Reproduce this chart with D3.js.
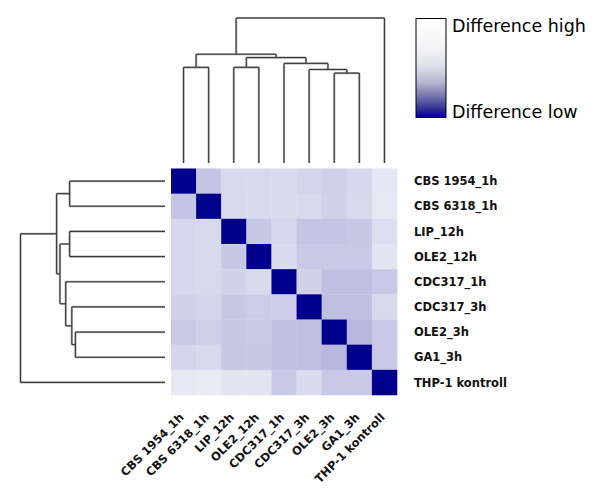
<!DOCTYPE html>
<html>
<head>
<meta charset="utf-8">
<script src="https://cdn.jsdelivr.net/npm/d3@7/dist/d3.min.js"></script>
<style>
html,body{margin:0;padding:0;background:#fff;}
svg{display:block;}
</style>
</head>
<body>
<svg id="chart" width="603" height="504"></svg>
<script>
// ---- data ----
const labels = ["CBS 1954_1h","CBS 6318_1h","LIP_12h","OLE2_12h","CDC317_1h","CDC317_3h","OLE2_3h","GA1_3h","THP-1 kontroll"];
const row0 = [0.00,0.77,0.85,0.85,0.85,0.83,0.81,0.84,0.90];
const row1 = [0.77,0.00,0.85,0.86,0.86,0.85,0.82,0.85,0.91];
const row2 = [0.84,0.85,0.00,0.78,0.84,0.77,0.77,0.78,0.87];
const row3 = [0.84,0.85,0.78,0.00,0.86,0.79,0.79,0.79,0.89];
const row4 = [0.84,0.85,0.82,0.85,0.00,0.82,0.75,0.75,0.79];
const row5 = [0.82,0.83,0.78,0.80,0.80,0.00,0.75,0.75,0.85];
const row6 = [0.79,0.81,0.78,0.79,0.75,0.75,0.00,0.72,0.79];
const row7 = [0.83,0.85,0.78,0.78,0.75,0.75,0.72,0.00,0.79];
const row8 = [0.91,0.92,0.89,0.89,0.79,0.86,0.79,0.79,0.00];
const matrix = [row0,row1,row2,row3,row4,row5,row6,row7,row8];
// linkage: [childA, childB, height]; leaves 0..8, new nodes from 9
const merges = [
  [6, 7, 0.620],   // 9
  [5, 9, 0.645],   // 10
  [4, 10, 0.687],  // 11
  [2, 3, 0.660],   // 12
  [12, 11, 0.727], // 13
  [0, 1, 0.660],   // 14
  [14, 13, 0.750], // 15
  [15, 8, 1.000]   // 16
];
const legendHigh = "Difference high";
const legendLow = "Difference low";

// ---- layout ----
const svg = d3.select("#chart");
const hmX = [171, 397], hmY = [168.5, 395];
const x = d3.scaleBand().domain(d3.range(labels.length)).range(hmX);
const y = d3.scaleBand().domain(d3.range(labels.length)).range(hmY);
const color = d3.scaleLinear().domain([0,1]).range(["#00008c","#ffffff"]).interpolate(d3.interpolateRgb);

// heatmap cells
const cells = [];
matrix.forEach((r,i)=>r.forEach((v,j)=>cells.push({i,j,v})));
svg.append("g").selectAll("rect").data(cells).join("rect")
  .attr("x",d=>x(d.j)).attr("y",d=>y(d.i))
  .attr("width",x.bandwidth()+0.3).attr("height",y.bandwidth()+0.3)
  .attr("fill",d=>color(d.v));

// dendrograms
const hTop = d3.scaleLinear().domain([0,1]).range([163,18]);
const hLeft = d3.scaleLinear().domain([0,1]).range([165,20.5]);
const nodes = labels.map((l,i)=>({pos:i, h:0}));
merges.forEach(m=>{
  const a = nodes[m[0]], b = nodes[m[1]];
  nodes.push({pos:(a.pos+b.pos)/2, h:m[2], a, b});
});
const topPath = d3.path(), leftPath = d3.path();
const cx = p => x(0) + x.bandwidth()*(p+0.5);
const cy = p => y(0) + y.bandwidth()*(p+0.5);
nodes.filter(n=>n.a).forEach(n=>{
  [n.a,n.b].forEach(c=>{
    topPath.moveTo(cx(c.pos), hTop(c.h));
    topPath.lineTo(cx(c.pos), hTop(n.h));
    leftPath.moveTo(hLeft(c.h), cy(c.pos));
    leftPath.lineTo(hLeft(n.h), cy(c.pos));
  });
  topPath.moveTo(cx(n.a.pos), hTop(n.h));
  topPath.lineTo(cx(n.b.pos), hTop(n.h));
  leftPath.moveTo(hLeft(n.h), cy(n.a.pos));
  leftPath.lineTo(hLeft(n.h), cy(n.b.pos));
});
[topPath,leftPath].forEach(p=>{
  svg.append("path").attr("d",p.toString()).attr("fill","none").attr("stroke","#aaa").attr("stroke-width",2.2);
  svg.append("path").attr("d",p.toString()).attr("fill","none").attr("stroke","#333").attr("stroke-width",1);
});

// row labels
svg.append("g").selectAll("text").data(labels).join("text")
  .attr("x",414).attr("y",(d,i)=>cy(i)).attr("dy","0.36em")
  .attr("font-family","DejaVu Sans").attr("font-weight","bold").attr("font-size",11.5)
  .attr("fill","#111").text(d=>d);

// column labels
svg.append("g").selectAll("text").data(labels).join("text")
  .attr("text-anchor","end")
  .attr("transform",(d,i)=>`translate(${cx(i)+1},${418}) rotate(-45)`)
  .attr("font-family","DejaVu Sans").attr("font-weight","bold").attr("font-size",11.5)
  .attr("fill","#111").text(d=>d);

// legend
const defs = svg.append("defs");
const grad = defs.append("linearGradient").attr("id","lg").attr("x1",0).attr("y1",0).attr("x2",0).attr("y2",1);
[[0,"#ffffff"],[0.3,"#f3f3f6"],[0.5,"#dcdce8"],[0.65,"#b4b4cf"],[0.8,"#6e6ea8"],[1,"#000088"]]
  .forEach(s=>grad.append("stop").attr("offset",s[0]).attr("stop-color",s[1]));
svg.append("rect").attr("x",416).attr("y",18.5).attr("width",30).attr("height",99)
  .attr("fill","url(#lg)").attr("stroke","#000").attr("stroke-width",1);
svg.append("text").attr("x",452).attr("y",32).attr("font-family","DejaVu Sans").attr("font-size",17.5).attr("fill","#000").text(legendHigh);
svg.append("text").attr("x",452).attr("y",117.5).attr("font-family","DejaVu Sans").attr("font-size",17.5).attr("fill","#000").text(legendLow);
</script>
</body>
</html>
